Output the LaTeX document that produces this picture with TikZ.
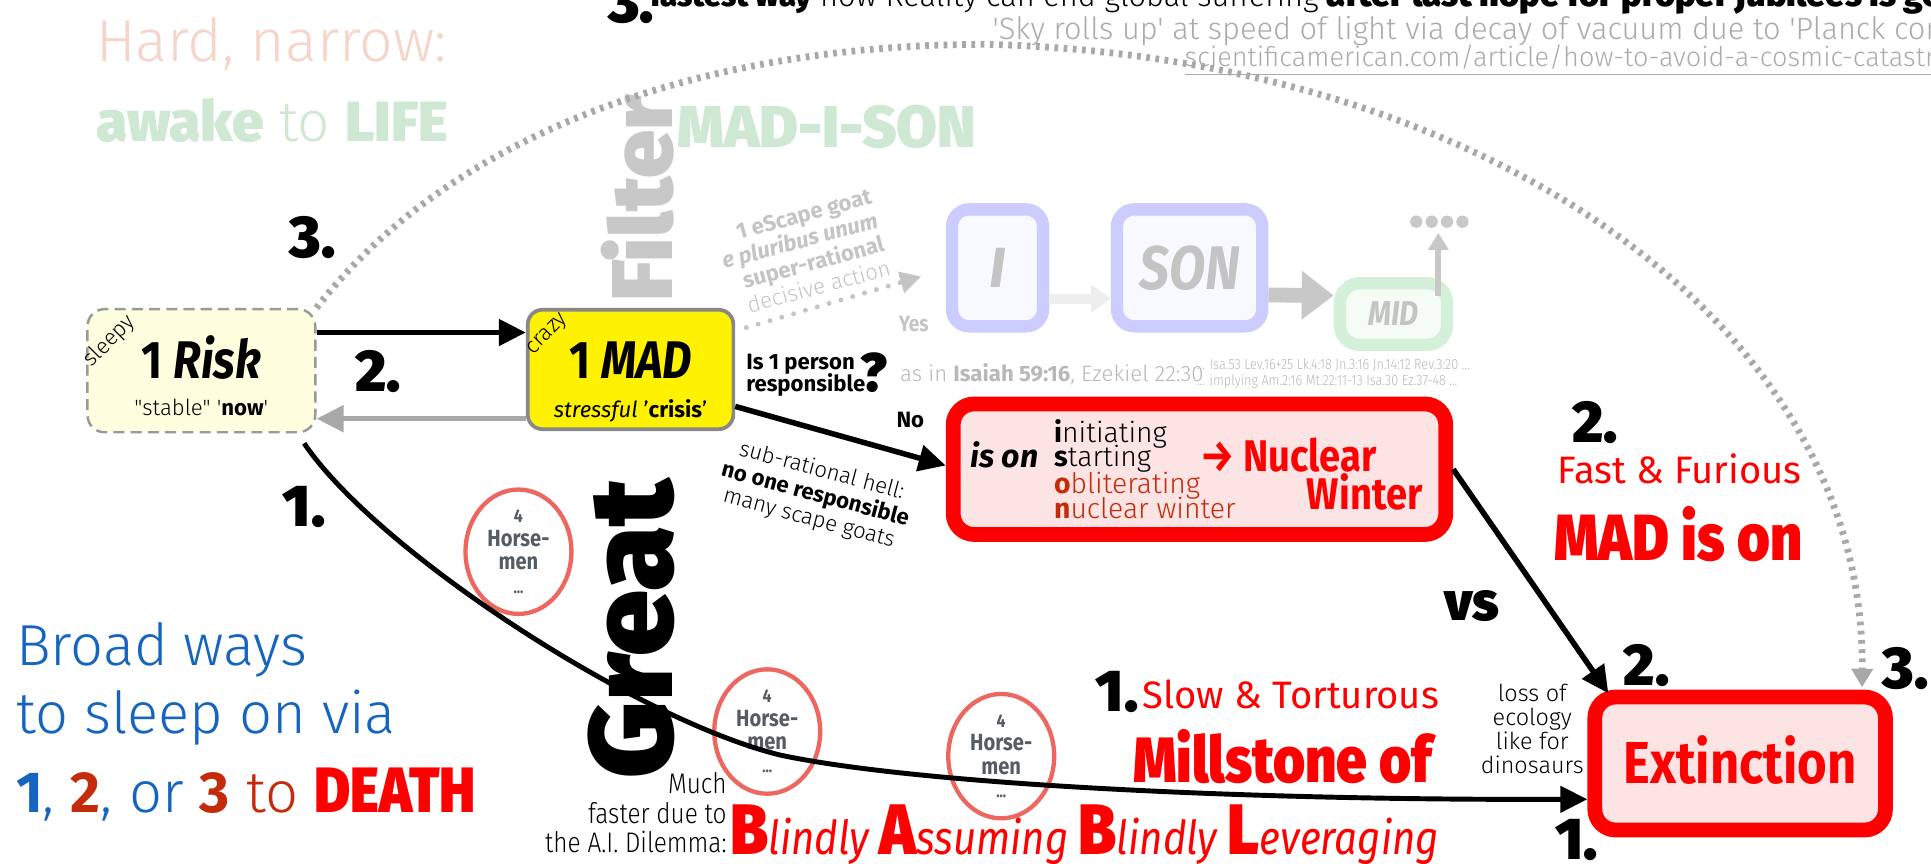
\documentclass[tikz,border=0pt]{standalone}
\usepackage{fontspec}
\defaultfontfeatures{Ligatures=TeXOff}
\setmainfont{Fira Sans}
\IfFontExistsTF{Fira Sans Light}{\newfontfamily\Lt{Fira Sans Light}\newfontfamily\LtC{Fira Sans Light}[FakeStretch=0.86]}{\newfontfamily\Lt{Fira Sans}\newfontfamily\LtC{Fira Sans}[FakeStretch=0.86]}
\IfFontExistsTF{Fira Sans Black}{\newfontfamily\Hv{Fira Sans Black}\newfontfamily\HvC{Fira Sans Black}[FakeStretch=0.86]}{%
 \IfFontExistsTF{Fira Sans ExtraBold}{\newfontfamily\Hv{Fira Sans ExtraBold}\newfontfamily\HvC{Fira Sans ExtraBold}[FakeStretch=0.86]}{\newfontfamily\Hv{Fira Sans Bold}\newfontfamily\HvC{Fira Sans Bold}[FakeStretch=0.86]}}
\newfontfamily\Cd{Fira Sans}[FakeStretch=0.86]
\usetikzlibrary{arrows.meta,shapes.geometric,calc,backgrounds}

\definecolor{hardc}{HTML}{F6D4C9}
\definecolor{lifec}{HTML}{CFE8D4}
\definecolor{filtc}{HTML}{C8C8C8}
\definecolor{skyc}{HTML}{ABABAB}
\definecolor{dotc}{HTML}{A8A8A8}
\definecolor{riskfill}{HTML}{FFFFE0}
\definecolor{riskdraw}{HTML}{999999}
\definecolor{maddraw}{HTML}{888888}
\definecolor{lav}{HTML}{CCCCFF}
\definecolor{lavfill}{HTML}{F8F8FF}
\definecolor{midc}{HTML}{D5F0D9}
\definecolor{midfill}{HTML}{F4FCF5}
\definecolor{fadetext}{HTML}{C4C4C4}
\definecolor{faint}{HTML}{EEEEEE}
\definecolor{pinkfill}{HTML}{FDE4E4}
\definecolor{brightred}{HTML}{FF0000}
\definecolor{darkred}{HTML}{C42B0A}
\definecolor{bluec}{HTML}{1565C0}
\definecolor{horsec}{HTML}{EE6660}
\definecolor{horsetext}{HTML}{565C64}
\definecolor{refc}{HTML}{B8B8B8}
\definecolor{backarrow}{HTML}{A8A8A8}

\newcommand\fzz[2]{\fontsize{#1}{#2}\selectfont}

\tikzset{
 lbl/.style={inner sep=0pt, outer sep=0pt},
 num/.style={lbl, font=\Hv\fzz{48}{48}},
 blkarrow/.style={line width=4.5pt, -{Triangle[length=22pt,width=21pt]}},
 redbox/.style={draw=brightred, line width=12pt, fill=pinkfill, rounded corners=17pt, inner sep=0pt},
 fadebox/.style={line width=10pt, rounded corners=14pt, inner sep=0pt},
 horse/.style={ellipse, draw=horsec, line width=3.5pt, minimum width=86pt, minimum height=101pt, inner sep=0pt, align=center, text=horsetext, font=\Cd\bfseries\fzz{19}{19}},
}

\begin{document}
\begin{tikzpicture}[x=1pt,y=-1pt]
\useasboundingbox (0,0) rectangle (1568,701);
\fill[white] (0,0) rectangle (1568,701);
\clip (0,0) rectangle (1568,701);

% ---- top texts
\node[lbl, anchor=base west, text=hardc, font=\Lt\fzz{48}{48}] (hard) at (78,50) {Hard, narrow:};
\node[lbl, anchor=base west, text=lifec, font=\fzz{46}{46}] (awake) at (78,115) {{\Hv awake} {\Lt to} {\Hv LIFE}};
\node[num, anchor=base west] (top3) at (494,18) {3.};
\node[lbl, anchor=base west, font=\fzz{25}{25}] (topline) at (528,5) {{\Hv fastest way} {\Lt how Reality can end global suffering} {\Hv\fzz{28}{28}after last hope for proper jubilees is gone}};
\node[lbl, anchor=base west, text=skyc, font=\Lt\fzz{25}{25}] (sky) at (806,32) {'Sky rolls up' at speed of light via decay of vacuum due to 'Planck constant'};
\node[lbl, anchor=base west, text=skyc, font=\Lt\fzz{22}{22}] (url) at (962,54) {\underline{scientificamerican.com/article/how-to-avoid-a-cosmic-catastrophe}};

% ---- Great Filter / MAD-I-SON
\node[lbl, rotate=90, anchor=base west, text=filtc, font=\Hv\fzz{70}{70}] (filter) at (546,245) {Filter};
\node[lbl, rotate=90, anchor=base west, font=\Hv\fzz{96}{96}] (great) at (546,632) {Great};
\node[lbl, anchor=base west, text=lifec, font=\Hv\fzz{48}{48}] (madison) at (550,120) {MAD-I-SON};

\node[lbl, rotate=15, align=right, text=fadetext, font=\fzz{18}{20}] (escape) at (652,205) {{\bfseries 1 eScape goat}\\{\bfseries\itshape e pluribus unum}\\{\bfseries super-rational}\\{\Lt decisive action}};

% ---- faded boxes
\node[fadebox, draw=lav, fill=lavfill, minimum width=74pt, minimum height=95pt, text=fadetext, font=\bfseries\itshape\fzz{46}{46}] (ibox) at (810,217.5) {I};
\node[fadebox, draw=lav, fill=lavfill, minimum width=118pt, minimum height=95pt, text=fadetext, font=\Cd\bfseries\itshape\fzz{50}{50}] (sonbox) at (966,217.5) {SON};
\node[fadebox, draw=midc, fill=midfill, minimum width=87pt, minimum height=50pt, rounded corners=16pt, text=fadetext, font=\Cd\bfseries\itshape\fzz{28}{28}] (midbox) at (1131.5,255) {MID};

\begin{scope}[on background layer]
\draw[faint, line width=6pt, -{Triangle[length=16pt,width=20pt]}] ($(ibox.east)+(0,44.5)$) -- ($(midbox.west)+(0,7)$);
\end{scope}
\draw[faint, line width=8pt, -{Triangle[length=16pt,width=22pt]}] ($(ibox.east)+(0,25)$) -- ($(sonbox.west)+(0,25)$);
\draw[filtc, line width=12pt, -{Triangle[length=26pt,width=38pt]}] ($(sonbox.east)+(0,22)$) -- ($(midbox.west)+(0,-15)$);
\draw[filtc, line width=5pt, -{Triangle[length=14pt,width=16pt]}] ($(midbox.north east)+(-12,15)$) -- ($(midbox.north east)+(-12,-36)$);
\foreach \k in {0,1,2,3} \fill[filtc] ({1150+\k*12.5},180) circle (5pt);

\coordinate (dotstart) at (606,266);
\draw[fadetext, line width=4pt, line cap=round, dash pattern=on 0pt off 10pt, -{Triangle[length=17pt,width=17pt]}] (dotstart) -- ($(ibox.west)+(-20,7)$);
\node[lbl, anchor=base, text=fadetext, font=\Cd\bfseries\fzz{18}{18}] (yes) at (742,269) {Yes};

% ---- question
\node[lbl, anchor=base west, font=\bfseries\fzz{18}{18}] (isq) at (606,300) {Is 1 person};
\node[lbl, anchor=base west, font=\bfseries\fzz{18}{18}] (resp) at (606,318) {responsible};
\node[lbl, anchor=base west, font=\Hv\fzz{44}{44}] (qmark) at (699,318) {?};
\node[lbl, anchor=base west, text=refc, font=\Lt\fzz{18}{18}] (asin) at (731,310) {as in {\normalfont\bfseries Isaiah 59:16}, Ezekiel 22:30};
\node[lbl, anchor=base west, text=refc, font=\LtC\fzz{12}{12}] (ref1) at (972,300) {... Isa.53 Lev.16+25 Lk.4:18 Jn.3:16 Jn.14:12 Rev.3:20 ...};
\node[lbl, anchor=base west, text=refc, font=\LtC\fzz{12}{12}] (ref2) at (972,313) {... implying Am.2:16 Mt.22:11-13 Isa.30 Ez.37-48 ...};
\node[lbl, anchor=base west, font=\bfseries\fzz{18}{18}] (no) at (728,347) {No};
\node[lbl, rotate=-15, align=center, font=\Lt\fzz{18}{20}] (subr) at (662,402) {sub-rational hell:\\{\normalfont\bfseries no one responsible}\\many scape goats};

% ---- main boxes
\node[draw=riskdraw, dash pattern=on 9pt off 5pt, line width=2pt, fill=riskfill, rounded corners=14pt, minimum width=185pt, minimum height=100pt, inner sep=0pt] (risk) at (163.5,301) {};
\node[lbl, anchor=base, font=\Cd\bfseries\fzz{43}{43}] (risktitle) at (163.5,307) {1 \textit{Risk}};
\node[lbl, anchor=base, font=\Lt\fzz{18}{18}] (risksub) at (163.5,337) {"stable" '{\normalfont\bfseries now}'};
\node[lbl, rotate=45, font=\Lt\fzz{18}{18}] (sleepy) at (89,277) {sleepy};

\node[draw=maddraw, line width=3pt, fill=yellow, rounded corners=12pt, minimum width=167pt, minimum height=97pt, inner sep=0pt] (mad) at (512,300) {};
\node[lbl, anchor=base, font=\Cd\bfseries\fzz{43}{43}] (madtitle) at (512,307) {1 \textit{MAD}};
\node[lbl, anchor=base, font=\fzz{18}{18}] (madsub) at (512,339) {\textit{stressful} '{\bfseries crisis}'};
\node[lbl, rotate=45, font=\Lt\fzz{18}{18}] (crazy) at (445,272) {crazy};

\node[redbox, minimum width=400pt, minimum height=106pt] (nuc) at (974,381) {};
\node[lbl, anchor=base west, font=\bfseries\itshape\fzz{26}{26}] (ison) at (788,380) {is on};
\node[lbl, anchor=base west, font=\Lt\fzz{23}{23}] (l1) at (856,359) {{\normalfont\bfseries i}nitiating};
\node[lbl, anchor=base west, font=\Lt\fzz{23}{23}] (l2) at (856,379) {{\normalfont\bfseries s}tarting};
\node[lbl, anchor=base west, text=darkred, font=\Lt\fzz{23}{23}] (l3) at (856,401) {{\normalfont\bfseries o}bliterating};
\node[lbl, anchor=base west, text=darkred, font=\Lt\fzz{23}{23}] (l4) at (856,421) {{\normalfont\bfseries n}uclear winter};
\node[lbl, anchor=base east, text=brightred, font=\Cd\bfseries\fzz{36}{36}] (nw1) at (1118,383) {→ Nuclear};
\node[lbl, anchor=base east, text=brightred, font=\Cd\bfseries\fzz{36}{36}] (nw2) at (1155,414) {Winter};

\node[redbox, minimum width=236pt, minimum height=108pt] (ext) at (1413,620) {};
\node[lbl, anchor=base, text=brightred, font=\Cd\bfseries\fzz{48}{48}] (exttext) at (1413,636) {Extinction};

% ---- horsemen
\node[horse] (h1) at (421,448) {{\fzz{15}{15}4}\\Horse-\\men\\{\fzz{13}{13}...}};
\node[horse] (h2) at (623,594) {{\fzz{15}{15}4}\\Horse-\\men\\{\fzz{13}{13}...}};
\node[horse] (h3) at (813,614) {{\fzz{15}{15}4}\\Horse-\\men\\{\fzz{13}{13}...}};

% ---- connectors
\coordinate (rf) at ($(risk.north east)+(0,20)$);
\draw[blkarrow] (rf) -- (rf -| mad.west);
\coordinate (mb) at ($(mad.south west)+(0,-10)$);
\draw[backarrow, line width=4.5pt, -{Triangle[length=22pt,width=21pt]}] (mb) -- (mb -| risk.east);
\draw[blkarrow] ($(mad.south east)+(0,-20)$) -- ($(nuc.west)+(0,-3)$);
\draw[blkarrow] (nuc.east) -- ($(ext.north west)+(17,3)$);
\draw[line width=4pt, -{Triangle[length=22pt,width=21pt]}] ($(risk.south east)+(-10,8)$) .. controls (305,446) and (513,583) .. (633,613) .. controls (740,636) and (1000,650) .. ($(ext.west)+(0,29)$);
\draw[dotc, line width=5.5pt, dash pattern=on 3pt off 4.5pt, -{Triangle[length=15pt,width=17pt]}] (risk.north east) .. controls (380,92) and (600,36) .. (800,36) .. controls (1200,45) and (1515,260) .. ($(ext.north east)+(-25,-2)$);

% ---- numbers and labels
\node[num] (two1) at (307,302) {2.};
\node[num] (three1) at (254,193) {3.};
\node[num] (one1) at (247,412) {1.};
\node[num] (two2) at (1295,343) {2.};
\node[num, anchor=base] (two3) at (1337,557) {2.};
\node[num, anchor=base west] (three2) at (1529,559) {3.};
\node[num] (one2) at (1280,682) {1.};
\node[num] (one3) at (907,562) {1.};
\node[lbl, font=\Hv\fzz{44}{44}] (vs) at (1195,492) {vs};

\node[lbl, anchor=base west, text=brightred, font=\fzz{31}{31}] (fast) at (1265,393) {Fast \& Furious};
\node[lbl, anchor=base west, text=brightred, font=\HvC\fzz{53}{53}] (madon) at (1262,455) {MAD is on};
\node[lbl, anchor=south east, align=center, font=\Lt\fzz{19}{19.5}] (loss) at (1286,628) {loss of\\ecology\\like for\\dinosaurs};

\node[lbl, anchor=base west, text=brightred, font=\fzz{31}{31}] (slow) at (928,575) {Slow \& Torturous};
\node[lbl, anchor=base west, text=brightred, font=\HvC\fzz{52}{52}] (mill) at (920,635) {Millstone of};
\node[lbl, anchor=base west, text=brightred] (blab) at (593,694) {{\HvC\fzz{58}{58}B}{\Cd\itshape\fzz{38}{38}lindly }{\HvC\fzz{58}{58}A}{\Cd\itshape\fzz{38}{38}ssuming }{\HvC\fzz{58}{58}B}{\Cd\itshape\fzz{38}{38}lindly }{\HvC\fzz{58}{58}L}{\Cd\itshape\fzz{38}{38}everaging}};
\node[lbl, anchor=east, align=right, font=\LtC\fzz{23}{24}] (much) at (590,660) {Much\\faster due to\\the A.I. Dilemma:};

\node[lbl, anchor=base west, text=bluec, font=\Lt\fzz{47}{47}] (broad1) at (13,540) {Broad ways};
\node[lbl, anchor=base west, text=bluec, font=\Lt\fzz{47}{47}] (broad2) at (13,596) {to sleep on via};
\node[lbl, anchor=base west, text=bluec, font=\Lt\fzz{47}{47}] (broad3) at (13,660) {{\normalfont\bfseries 1}, {\normalfont\bfseries\color{darkred}2}, or {\color{darkred}{\normalfont\bfseries 3} to} {\HvC\fzz{52}{52}\color{brightred}DEATH}};
\end{tikzpicture}
\end{document}
